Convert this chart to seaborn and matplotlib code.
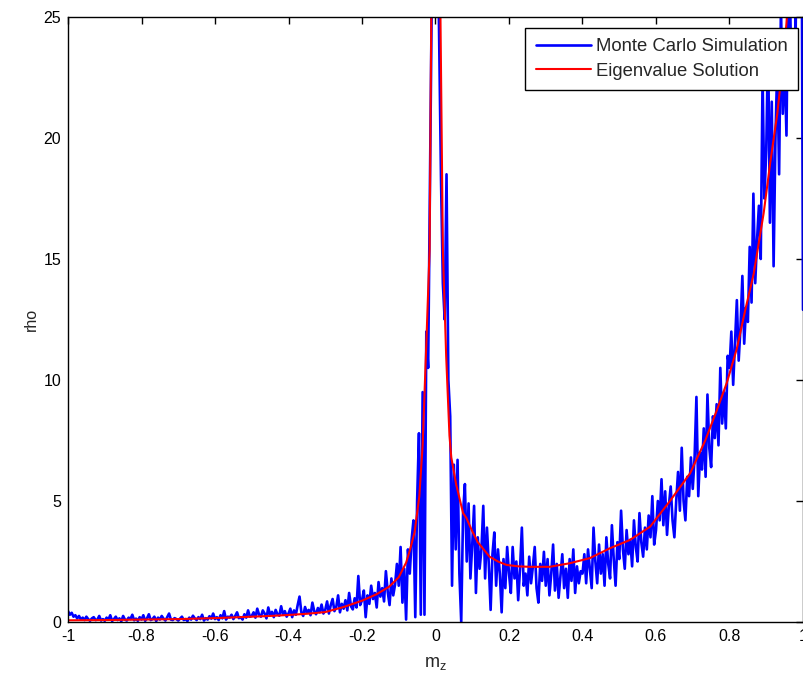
import numpy as np
import pandas as pd
import matplotlib
matplotlib.use("Agg")
import matplotlib.pyplot as plt
import seaborn as sns

# Monte Carlo histogram density, bins of width 0.005 from -1 to 1
mc_rho = [
    # -1.000 .. -0.905
    0.45, 0.30, 0.38, 0.22, 0.28, 0.15, 0.25, 0.10, 0.18, 0.08, 0.22, 0.12, 0.05, 0.15, 0.20, 0.08, 0.10, 0.25, 0.06, 0.12,
    # -0.900 .. -0.805
    0.05, 0.18, 0.10, 0.28, 0.04, 0.12, 0.22, 0.08, 0.15, 0.03, 0.25, 0.10, 0.06, 0.18, 0.12, 0.30, 0.07, 0.14, 0.05, 0.20,
    # -0.800 .. -0.705
    0.10, 0.28, 0.05, 0.15, 0.32, 0.08, 0.12, 0.22, 0.04, 0.18, 0.10, 0.25, 0.14, 0.06, 0.20, 0.35, 0.10, 0.08, 0.16, 0.12,
    # -0.700 .. -0.605
    0.06, 0.14, 0.22, 0.08, 0.12, 0.04, 0.18, 0.10, 0.26, 0.15, 0.08, 0.20, 0.12, 0.30, 0.06, 0.16, 0.10, 0.24, 0.14, 0.35,
    # -0.600 .. -0.505
    0.12, 0.20, 0.08, 0.28, 0.15, 0.45, 0.10, 0.22, 0.18, 0.30, 0.12, 0.25, 0.40, 0.16, 0.20, 0.10, 0.32, 0.18, 0.48, 0.22,
    # -0.500 .. -0.405
    0.25, 0.40, 0.18, 0.55, 0.30, 0.22, 0.48, 0.35, 0.15, 0.60, 0.28, 0.42, 0.20, 0.50, 0.32, 0.26, 0.65, 0.30, 0.45, 0.22,
    # -0.400 .. -0.305
    0.35, 0.55, 0.20, 0.48, 0.30, 0.70, 1.05, 0.40, 0.25, 0.62, 0.38, 0.50, 0.28, 0.80, 0.45, 0.32, 0.58, 0.40, 0.72, 0.35,
    # -0.300 .. -0.205
    0.50, 0.85, 0.35, 0.70, 0.95, 0.45, 0.62, 1.10, 0.40, 0.75, 0.55, 0.90, 0.48, 1.20, 0.65, 0.52, 0.98, 0.60, 1.90, 0.70,
    # -0.200 .. -0.105
    0.90, 1.30, 0.20, 1.10, 0.75, 1.50, 0.95, 1.20, 0.60, 1.65, 1.05, 1.40, 0.85, 2.10, 1.25, 0.70, 1.80, 1.10, 1.55, 2.40,
    # -0.100 .. -0.005
    1.50, 3.10, 0.80, 2.20, 0.10, 3.00, 2.00, 3.40, 4.20, 0.20, 5.00, 7.80, 0.30, 9.50, 0.30, 12.0, 10.5, 18.5, 26.0, 30.0,
    # 0.000 .. 0.095
    32.0, 30.0, 24.0, 18.3, 14.0, 12.5, 18.5, 10.0, 8.50, 1.50, 6.50, 3.00, 6.70, 2.00, 0.00, 4.50, 5.70, 2.50, 4.90, 1.80,
    # 0.100 .. 0.195
    3.20, 4.80, 1.20, 3.50, 2.20, 3.00, 4.80, 1.80, 3.90, 2.40, 0.50, 2.80, 3.70, 1.50, 3.00, 2.00, 0.40, 2.60, 1.40, 3.10,
    # 0.200 .. 0.295
    2.00, 1.20, 3.10, 1.80, 2.50, 0.90, 2.20, 3.90, 1.50, 2.00, 1.10, 2.70, 1.60, 2.30, 3.10, 1.40, 0.80, 2.40, 1.70, 2.90,
    # 0.300 .. 0.395
    1.50, 2.60, 1.10, 2.00, 3.20, 1.30, 2.40, 1.00, 1.90, 2.80, 1.40, 2.20, 1.00, 2.60, 1.70, 3.00, 1.20, 2.30, 1.60, 2.10,
    # 0.400 .. 0.495
    2.00, 2.80, 1.60, 3.00, 2.20, 1.40, 3.90, 2.50, 1.60, 3.20, 2.00, 2.80, 1.50, 3.50, 2.40, 1.80, 4.00, 2.60, 1.50, 3.30,
    # 0.500 .. 0.595
    2.60, 4.60, 3.00, 2.20, 3.80, 2.80, 3.40, 2.30, 4.20, 3.10, 2.50, 4.50, 3.30, 2.70, 3.90, 3.00, 4.40, 3.50, 5.20, 3.20,
    # 0.600 .. 0.695
    3.80, 5.00, 4.20, 5.90, 4.00, 5.40, 3.60, 4.80, 5.60, 4.20, 3.50, 5.00, 6.20, 4.60, 7.20, 5.00, 4.20, 6.00, 5.20, 6.80,
    # 0.700 .. 0.795
    5.50, 6.80, 9.30, 5.20, 7.00, 6.30, 8.00, 6.00, 9.40, 7.20, 6.40, 8.50, 7.60, 9.00, 7.30, 10.5, 8.20, 9.50, 8.00, 11.0,
    # 0.800 .. 0.895
    10.5, 12.0, 9.80, 11.5, 13.3, 10.8, 12.2, 14.3, 11.5, 13.0, 12.4, 15.5, 13.2, 17.7, 14.0, 15.8, 17.2, 15.0, 22.5, 17.5,
    # 0.900 .. 0.995
    19.5, 24.0, 16.5, 21.5, 14.7, 20.0, 23.0, 18.5, 25.5, 21.0, 23.2, 20.1, 27.0, 24.5, 30.0, 28.0, 24.3, 32.0, 29.0, 35.0,
    # 1.000
    12.9,
]
mc_m = np.linspace(-1.0, 1.0, len(mc_rho))

# Eigenvalue solution of the stationary density
eig_m = [-1.0, -0.9, -0.8, -0.7, -0.6, -0.5, -0.45, -0.4, -0.35, -0.3, -0.25, -0.2,
         -0.16, -0.126, -0.1, -0.08, -0.07, -0.057, -0.044, -0.035, -0.025, -0.016,
         -0.0115, -0.008, 0.0, 0.009, 0.0135, 0.02, 0.029, 0.038, 0.043, 0.056,
         0.075, 0.084, 0.1, 0.115, 0.147, 0.17, 0.193, 0.225, 0.256, 0.311, 0.366,
         0.42, 0.475, 0.529, 0.584, 0.638, 0.693, 0.734, 0.766, 0.793, 0.82, 0.843,
         0.866, 0.893, 0.911, 0.93, 0.948, 0.955, 0.965]
eig_rho = [0.07, 0.08, 0.10, 0.12, 0.16, 0.22, 0.25, 0.29, 0.34, 0.41, 0.62, 0.88,
           1.15, 1.46, 1.85, 2.45, 2.95, 3.70, 5.20, 7.30, 11.5, 15.4,
           25.0, 40.0, 60.0, 40.0, 25.0, 15.4, 11.0, 7.70, 6.80, 5.70,
           4.50, 4.30, 3.75, 3.30, 2.70, 2.50, 2.36, 2.30, 2.28, 2.28, 2.43,
           2.64, 3.05, 3.39, 3.94, 5.00, 6.15, 7.50, 8.77, 9.90, 11.3, 12.9,
           14.4, 16.9, 19.0, 21.0, 23.5, 24.75, 27.0]

x_ticks = [-1, -0.8, -0.6, -0.4, -0.2, 0, 0.2, 0.4, 0.6, 0.8, 1]
x_tick_labels = ["-1", "-0.8", "-0.6", "-0.4", "-0.2", "0", "0.2", "0.4", "0.6", "0.8", "1"]
y_ticks = [0, 5, 10, 15, 20, 25]

sns.set_theme(style="white")
plt.rcParams["font.family"] = ["Liberation Sans", "DejaVu Sans"]

fig = plt.figure(figsize=(8.04, 6.79), dpi=100)
ax = fig.add_axes([68 / 804, 1 - 622 / 679, 735 / 804, 605 / 679])

mc_df = pd.DataFrame({"m": mc_m, "rho": mc_rho})
eig_df = pd.DataFrame({"m": eig_m, "rho": eig_rho})

sns.lineplot(data=mc_df, x="m", y="rho", ax=ax, color="#0000ff", lw=1.9,
             estimator=None, sort=False, label="Monte Carlo Simulation")
sns.lineplot(data=eig_df, x="m", y="rho", ax=ax, color="#ff0000", lw=1.5,
             estimator=None, sort=False, label="Eigenvalue Solution")

ax.set_xlim(-1, 1)
ax.set_ylim(0, 25)
ax.set_xticks(x_ticks)
ax.set_xticklabels(x_tick_labels)
ax.set_yticks(y_ticks)
ax.tick_params(direction="in", length=5, width=1, top=True, right=True,
               labelsize=11.5, colors="black", pad=5)
for s in ax.spines.values():
    s.set_color("black")
    s.set_linewidth(1.0)

ax.set_xlabel(r"$\mathregular{m_z}$", fontsize=13, labelpad=8)
ax.set_ylabel("rho", fontsize=11.5, labelpad=3)

leg = ax.legend(loc="upper right", bbox_to_anchor=(0.9932, 0.9818),
                borderaxespad=0, fontsize=13.3, frameon=True, fancybox=False,
                framealpha=1, edgecolor="black", handlelength=3.0,
                handletextpad=0.28, borderpad=0.55, labelspacing=0.4)
leg.get_frame().set_linewidth(1.0)

fig.savefig("out.png", dpi=100, facecolor="white")
